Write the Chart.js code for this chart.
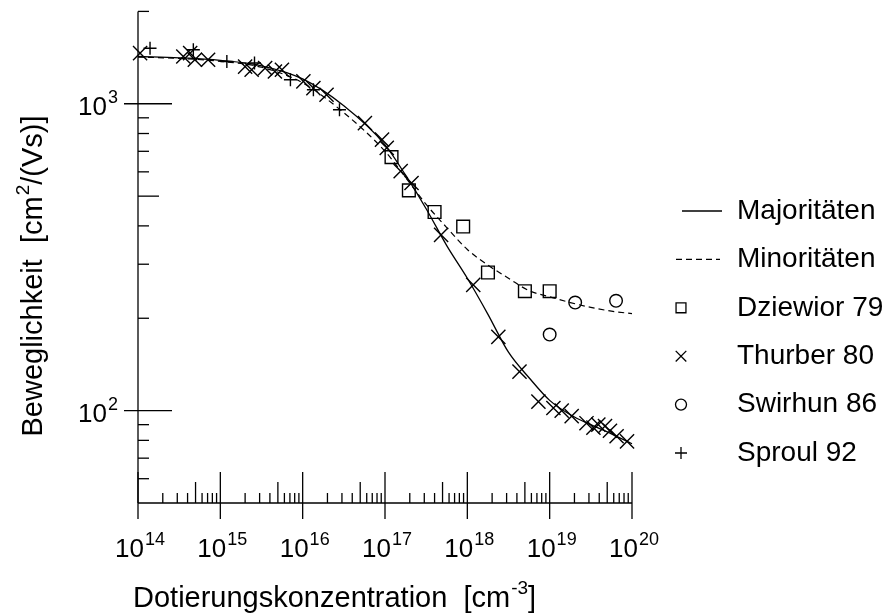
<!DOCTYPE html>
<html>
<head>
<meta charset="utf-8">
<script src="https://cdn.jsdelivr.net/npm/chart.js@4.4.0/dist/chart.umd.min.js"></script>
<style>
    html, body { margin: 0; padding: 0; background: #fff; }
    #wrap { width: 893px; height: 615px; }
</style>
</head>
<body>
<div id="wrap"><canvas id="mobility" width="893" height="615"></canvas></div>
<script>
// Elektronenbeweglichkeit in Si über der Dotierung (log/log)

// Modellkurven
const curveN = [1e14, 3.16e14, 1e15, 3.16e15, 1e16, 3.16e16, 1e17, 1.78e17, 3.16e17, 5.62e17,
    1e18, 1.78e18, 3.16e18, 5.62e18, 1e19, 1.78e19, 3.16e19, 5.62e19, 1e20];
const majorityMu = [1426, 1412, 1385, 1330, 1205, 985, 735, 585, 455, 345,
    270, 206, 155, 128, 108, 97, 90, 84, 78];
const minorityMu = [1420, 1405, 1375, 1315, 1170, 935, 700, 575, 470, 395,
    335, 298, 270, 246, 235, 225, 217, 211, 207];

// Messwerte
const dziewiorN = [1.2e17, 1.95e17, 4.0e17, 8.9e17, 1.78e18, 5.0e18, 1.0e19];
const dziewiorMu = [670, 522, 444, 398, 282, 245, 245];

const thurberN = [1.06e14, 3.55e14, 4.3e14, 4.9e14, 7.1e14, 2.0e15, 2.4e15, 3.5e15, 4.6e15, 5.6e15,
    1.02e16, 1.35e16, 1.95e16, 5.7e16, 9.2e16, 1.05e17, 1.55e17, 2.1e17, 4.8e17, 1.18e18,
    2.38e18, 4.3e18, 7.3e18, 1.11e19, 1.4e19, 1.85e19, 2.8e19, 3.4e19, 3.9e19, 4.7e19,
    5.4e19, 6.5e19, 8.7e19];
const thurberMu = [1462, 1426, 1462, 1391, 1391, 1322, 1291, 1307, 1274, 1291,
    1183, 1125, 1070, 865, 764, 718, 603, 552, 374, 257,
    174, 134, 107, 102, 100, 96, 91, 88, 90, 89,
    86, 82.5, 79.4];

const swirhunN = [1.0e19, 2.04e19, 6.4e19];
const swirhunMu = [177, 225, 228];

const sproulN = [1.4e14, 4.7e14, 1.2e15, 2.6e15, 7.1e15, 1.35e16, 2.8e16];
const sproulMu = [1517, 1500, 1373, 1358, 1197, 1111, 956];

// Achsen
const xDecades = [14, 15, 16, 17, 18, 19, 20];
const yDecades = [2, 3];
const yMinorTicks = [60, 70, 80, 90, 200, 300, 400, 500, 600, 700, 800, 900, 2000];

const legendNames = ["Majoritäten", "Minoritäten", "Dziewior 79", "Thurber 80", "Swirhun 86", "Sproul 92"];

const FONT = '"Liberation Sans", Arial, Helvetica, sans-serif';
const INK = "#000";

function pairs(xs, ys) {
    return xs.map((x, i) => ({ x: x, y: ys[i] }));
}

// Text mit Hochstellung: parts = [[text, hoch], ...]
function drawRich(ctx, parts, x, y, align, size, supSize, rise) {
    const widths = parts.map(([t, sup]) => {
        ctx.font = (sup ? supSize : size) + "px " + FONT;
        return ctx.measureText(t).width + (sup ? 1 : 0);
    });
    const total = widths.reduce((a, b) => a + b, 0);
    let cx = align === "center" ? x - total / 2 : align === "right" ? x - total : x;
    ctx.textAlign = "left";
    ctx.textBaseline = "alphabetic";
    parts.forEach(([t, sup], i) => {
        ctx.font = (sup ? supSize : size) + "px " + FONT;
        ctx.fillText(t, cx + (sup ? 1 : 0), sup ? y - rise : y);
        cx += widths[i];
    });
}

function line(ctx, x1, y1, x2, y2) {
    ctx.beginPath();
    ctx.moveTo(x1, y1);
    ctx.lineTo(x2, y2);
    ctx.stroke();
}

const axisPainter = {
    id: "axisPainter",
    afterDraw(chart) {
        const ctx = chart.ctx;
        const xs = chart.scales.x;
        const ys = chart.scales.y;
        const left = xs.left, right = xs.right;
        const top = ys.top, bottom = ys.bottom;

        ctx.save();
        ctx.strokeStyle = INK;
        ctx.fillStyle = INK;
        ctx.lineWidth = 1.3;
        ctx.setLineDash([]);

        // y-Achse
        line(ctx, left, top, left, bottom);
        yDecades.forEach(d => {
            const py = ys.getPixelForValue(10 ** d);
            line(ctx, left - 14, py, left + 34, py);
            drawRich(ctx, [["10", false], [String(d), true]], 118, py + 11, "right", 26, 18, 12);
        });
        yMinorTicks.forEach(v => {
            const py = ys.getPixelForValue(v);
            const len = (v === 500) ? 21 : 11;
            line(ctx, left, py, left + len, py);
        });

        // x-Achse
        line(ctx, left, bottom, right, bottom);
        xDecades.forEach(d => {
            const px = xs.getPixelForValue(10 ** d);
            line(ctx, px, bottom - 31, px, bottom + 16);
            drawRich(ctx, [["10", false], [String(d), true]], px + 2, 557, "center", 26, 18, 12);
            if (d < 20) {
                for (let m = 2; m <= 9; m++) {
                    const mx = xs.getPixelForValue(m * 10 ** d);
                    line(ctx, mx, bottom, mx, bottom - (m === 5 ? 21 : 10));
                }
            }
        });

        // Achsentitel
        drawRich(ctx, [["Dotierungskonzentration  [cm", false], ["-3", true], ["]", false]],
            133, 607, "left", 29, 19, 13);
        ctx.save();
        ctx.translate(42, 276);
        ctx.rotate(-Math.PI / 2);
        drawRich(ctx, [["Beweglichkeit  [cm", false], ["2", true], ["/(Vs)]", false]],
            0, 0, "center", 29, 19, 13);
        ctx.restore();

        // Legende
        const sets = chart.data.datasets;
        const rowTop = 211, rowGap = 48.4;
        legendNames.forEach((name, i) => {
            const ry = rowTop + i * rowGap;
            const ds = sets[i];
            ctx.strokeStyle = INK;
            ctx.lineWidth = 1.3;
            if (ds.showLine) {
                ctx.setLineDash(ds.borderDash || []);
                line(ctx, i === 0 ? 682 : 676, ry, i === 0 ? 722 : 720, ry);
                ctx.setLineDash([]);
            } else {
                // offene Symbole wie im Diagramm
                ctx.fillStyle = "rgba(0,0,0,0)";
                Chart.helpers.drawPoint(ctx, {
                    pointStyle: ds.pointStyle,
                    radius: ds.legendRadius,
                    rotation: 0,
                    borderWidth: 1.3
                }, 681, ry);
            }
            ctx.fillStyle = INK;
            ctx.font = "28px " + FONT;
            ctx.textAlign = "left";
            ctx.textBaseline = "middle";
            ctx.fillText(name, 737, ry);
        });
        ctx.restore();
    }
};

function markerSet(label, xs, ys, style, radius, legendRadius) {
    return {
        label: label,
        data: pairs(xs, ys),
        showLine: false,
        pointStyle: style,
        pointRadius: radius,
        legendRadius: legendRadius,
        pointBorderColor: INK,
        pointBackgroundColor: "rgba(0,0,0,0)",
        pointBorderWidth: 1.4,
        clip: false
    };
}

new Chart(document.getElementById("mobility"), {
    type: "scatter",
    data: {
        datasets: [
            {
                label: legendNames[0],
                data: pairs(curveN, majorityMu),
                showLine: true,
                borderColor: INK,
                borderWidth: 1.3,
                pointRadius: 0,
                cubicInterpolationMode: "monotone",
                clip: false
            },
            {
                label: legendNames[1],
                data: pairs(curveN, minorityMu),
                showLine: true,
                borderColor: INK,
                borderWidth: 1.2,
                borderDash: [6, 4],
                pointRadius: 0,
                cubicInterpolationMode: "monotone",
                clip: false
            },
            markerSet(legendNames[2], dziewiorN, dziewiorMu, "rect", 9, 7),
            markerSet(legendNames[3], thurberN, thurberMu, "crossRot", 10, 7.5),
            markerSet(legendNames[4], swirhunN, swirhunMu, "circle", 6.3, 5.5),
            markerSet(legendNames[5], sproulN, sproulMu, "cross", 6.5, 6)
        ]
    },
    options: {
        responsive: false,
        animation: false,
        layout: {
            padding: { left: 138, right: 261, top: 11, bottom: 112 }
        },
        scales: {
            x: { type: "logarithmic", min: 1e14, max: 1e20, display: false },
            y: { type: "logarithmic", min: 50, max: 2000, display: false }
        },
        plugins: {
            legend: { display: false },
            tooltip: { enabled: false }
        },
        events: []
    },
    plugins: [axisPainter]
});
</script>
</body>
</html>
